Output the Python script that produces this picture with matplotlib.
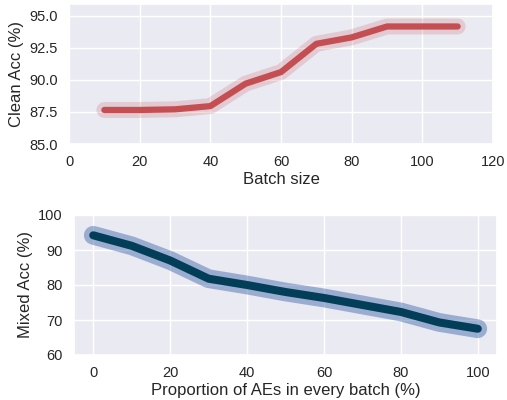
import numpy as np
import matplotlib
matplotlib.use("Agg")
import matplotlib.pyplot as plt
import seaborn as sns

sns.set_theme(style="darkgrid", font_scale=1.0)
plt.rcParams["font.family"] = ["Arial", "Liberation Sans", "DejaVu Sans"]

# 상단: batch size vs clean acc
batch_size = [10, 20, 30, 40, 50, 60, 70, 80, 90, 100, 110]
clean_acc = [87.65, 87.65, 87.7, 87.95, 89.7, 90.6, 92.8, 93.3, 94.15, 94.15, 94.15]

# 하단: AE 비율 vs mixed acc
ae_prop = [0, 10, 20, 30, 40, 50, 60, 70, 80, 90, 100]
mixed_acc = [94.2, 91.2, 87.0, 81.8, 80.0, 78.0, 76.3, 74.3, 72.3, 69.3, 67.5]

fig = plt.figure(figsize=(5.07, 4.0), dpi=100)
ax1 = fig.add_axes([69 / 507, 1 - 144 / 400, (493 - 69) / 507, (144 - 4) / 400])
ax2 = fig.add_axes([74 / 507, 1 - 355 / 400, (497 - 74) / 507, (355 - 215) / 400])

ax1.plot(batch_size, clean_acc, color="#c44e52", lw=11.5, alpha=0.2, solid_capstyle="round")
ax1.plot(batch_size, clean_acc, color="#c44e52", lw=4.5, solid_capstyle="round")
ax1.set_xlim(0, 120)
ax1.set_ylim(85, 95.9)
ax1.set_yticks([85.0, 87.5, 90.0, 92.5, 95.0])
ax1.set_xlabel("Batch size", fontsize=12, labelpad=2)
ax1.set_ylabel("Clean Acc (%)", fontsize=12)
ax1.tick_params(labelsize=10.5, pad=2)

ax2.plot(ae_prop, mixed_acc, color="#4c72b0", lw=13.5, alpha=0.5, solid_capstyle="round")
ax2.plot(ae_prop, mixed_acc, color="#023e58", lw=5.8, solid_capstyle="round")
ax2.set_xlim(-5, 105)
ax2.set_ylim(60, 100)
ax2.set_yticks([60, 70, 80, 90, 100])
ax2.set_xlabel("Proportion of AEs in every batch (%)", fontsize=12, labelpad=2)
ax2.set_ylabel("Mixed Acc (%)", fontsize=12)
ax2.tick_params(labelsize=10.5, pad=2)

fig.savefig("out.png", dpi=100)
